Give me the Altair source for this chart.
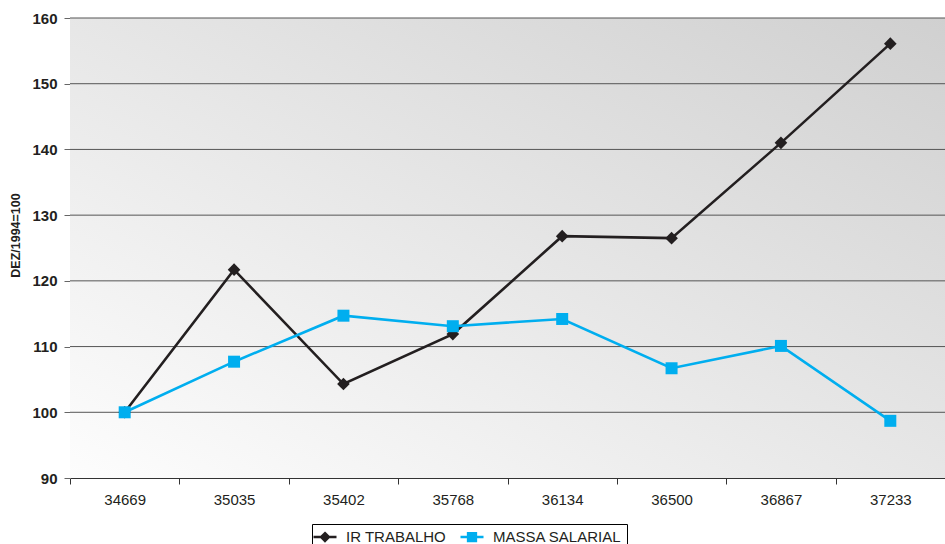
import altair as alt
import pandas as pd

periods = ["34669", "35035", "35402", "35768", "36134", "36500", "36867", "37233"]
ir_trabalho = [100.0, 121.7, 104.3, 111.9, 126.8, 126.5, 141.0, 156.1]
massa_salarial = [100.0, 107.7, 114.7, 113.1, 114.2, 106.7, 110.1, 98.7]
series_names = ["IR TRABALHO", "MASSA SALARIAL"]
series_colors = ["#231f20", "#00aeef"]
y_ticks = [90, 100, 110, 120, 130, 140, 150, 160]
grid_values = [100, 110, 120, 130, 140, 150, 160]

rows = []
for i, p in enumerate(periods):
    rows.append({"periodo": p, "serie": series_names[0], "valor": ir_trabalho[i]})
    rows.append({"periodo": p, "serie": series_names[1], "valor": massa_salarial[i]})
df = pd.DataFrame(rows)
grid_df = pd.DataFrame({"valor": grid_values})

FONT = "Liberation Sans"

x_enc = alt.X(
    "periodo:O",
    sort=periods,
    bandPosition=0.5,
    scale=alt.Scale(type="band", domain=periods, paddingInner=0, paddingOuter=0),
    axis=alt.Axis(
        title=None, tickBand="extent", labelAngle=0, labelFont=FONT, labelFontSize=15,
        labelColor="#231f20", tickSize=6, tickColor="#333333", domainColor="#333333",
        labelPadding=8, grid=False,
    ),
)
y_scale = alt.Scale(domain=[90, 160], nice=False, zero=False)
y_axis = alt.Axis(
    values=y_ticks, title="DEZ/1994=100", titleFont=FONT, titleFontSize=12.5,
    titleFontWeight="bold", titleColor="#231f20", titlePadding=9, titleY=217,
    labelFont=FONT, labelFontSize=15, labelFontWeight="bold", labelColor="#231f20",
    tickSize=6, tickColor="#666666", domainColor="#808080", labelPadding=7, grid=False,
)
y_enc = alt.Y("valor:Q", scale=y_scale, axis=y_axis)

bg = alt.Chart(alt.Data(values=[{}])).mark_rect(
    color=alt.Gradient(
        gradient="linear", x1=0, y1=1, x2=1, y2=0,
        stops=[alt.GradientStop(offset=0, color="#fdfdfd"),
               alt.GradientStop(offset=1, color="#d0d0d0")],
    )
).encode(x=alt.value(0), x2=alt.value("width"), y=alt.value(0), y2=alt.value("height"))

grid = alt.Chart(grid_df).mark_rule(color="#555555", strokeWidth=1).encode(
    y=y_enc, x=alt.value(0), x2=alt.value("width")
)

layers = [bg, grid]
shapes = ["diamond", "square"]
sizes = [160, 144]
for name, col, shp, sz in zip(series_names, series_colors, shapes, sizes):
    base = alt.Chart(df).transform_filter(alt.datum.serie == name)
    layers.append(base.mark_line(color=col, strokeWidth=2.6).encode(x=x_enc, y=y_enc))
    layers.append(base.mark_point(filled=True, color=col, shape=shp, size=sz, opacity=1).encode(x=x_enc, y=y_enc))

legend_paths = [
    "M-1.77,0H1.77M0,-0.6L0.6,0L0,0.6L-0.6,0Z",
    "M-1.77,0H1.77M-0.6,-0.6H0.6V0.6H-0.6Z",
]
leg = alt.Legend(
    orient="none", legendX=242, legendY=506, direction="horizontal", title=None,
    strokeColor="#000000", padding=5, symbolSize=169, symbolStrokeWidth=2.5,
    labelFont=FONT, labelFontSize=15, labelColor="#231f20", columnPadding=8,
    labelOffset=13, symbolOpacity=1,
)
legend_layer = alt.Chart(df).transform_filter(alt.datum.valor < 0).mark_point(filled=True).encode(
    x=x_enc, y=y_enc,
    fill=alt.Fill("serie:N", scale=alt.Scale(domain=series_names, range=series_colors), legend=leg),
    stroke=alt.Stroke("serie:N", scale=alt.Scale(domain=series_names, range=series_colors), legend=leg),
    shape=alt.Shape("serie:N", scale=alt.Scale(domain=series_names, range=legend_paths), legend=leg),
)
layers.append(legend_layer)

chart = alt.layer(*layers).properties(
    width=875, height=460,
    autosize=alt.AutoSizeParams(type="none"),
    padding={"left": 70, "top": 18, "right": 0, "bottom": 66},
    background="white",
).configure_view(stroke=None)

chart.save("out.html", embed_options={"renderer": "svg", "actions": False})
